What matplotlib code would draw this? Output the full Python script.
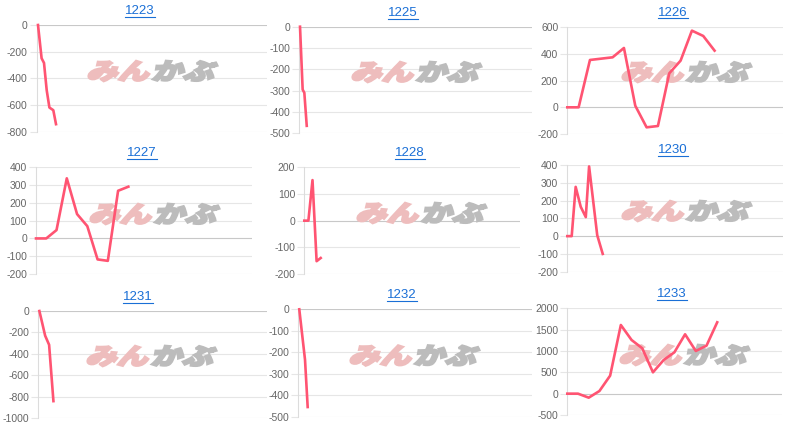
import numpy as np
import matplotlib
matplotlib.use('Agg')
import matplotlib.pyplot as plt
import matplotlib.transforms as mtransforms
from matplotlib.textpath import TextPath
from matplotlib.patches import PathPatch
from matplotlib.font_manager import FontProperties
from matplotlib.lines import Line2D

plt.rcParams['font.family'] = ['Liberation Sans', 'DejaVu Sans']

codes = ['1223', '1225', '1226', '1227', '1228', '1230', '1231', '1232', '1233']

# x = slot on each chart's time axis, y = profit / loss
x_1223 = [0.5, 1.7, 2.5, 3.4, 4.3, 5.6, 6.5]
y_1223 = [0, -250, -285, -490, -620, -640, -745]
x_1225 = [0.3, 1.4, 2.1, 3.1]
y_1225 = [0, -295, -310, -465]
x_1226 = list(range(14))
y_1226 = [0, 0, 355, 365, 375, 445, 12, -150, -140, 255, 350, 575, 535, 425]
x_1227 = list(range(10))
y_1227 = [0, 0, 47, 338, 137, 69, -118, -126, 268, 291]
x_1228 = [0, 1, 2, 3, 4]
y_1228 = [0, 0, 152, -152, -140]
x_1230 = [0, 1, 1.9, 3.05, 4.2, 4.95, 6.8, 8.05]
y_1230 = [0, 0, 277, 165, 107, 392, 5, -100]
x_1231 = [0.3, 1.0, 1.9, 3.0, 4.2]
y_1231 = [0, -100, -230, -315, -840]
x_1232 = [0.35, 2.4, 3.35]
y_1232 = [0, -235, -455]
x_1233 = list(range(15))
y_1233 = [0, 0, -94, 62, 422, 1609, 1258, 1063, 500, 789, 969, 1391, 1000, 1125, 1672]

xs = [x_1223, x_1225, x_1226, x_1227, x_1228, x_1230, x_1231, x_1232, x_1233]
ys = [y_1223, y_1225, y_1226, y_1227, y_1228, y_1230, y_1231, y_1232, y_1233]
x_max = [76.8, 97, 19.04, 21.05, 52.6, 49, 63.5, 83.5, 20.05]
y_ranges = [(-800, 0, 200), (-500, 0, 100), (-200, 600, 200),
            (-200, 400, 100), (-200, 200, 100), (-200, 400, 100),
            (-1000, 0, 200), (-500, 0, 100), (-500, 2000, 500)]

# layout in pixels: axes box (left, top, right, bottom), title centre, logo centre
W, H = 800, 426
boxes = [(36.5, 25, 267, 131.5), (299.3, 26.7, 532, 133.3), (567.3, 27.3, 783, 134),
         (36, 167.3, 252, 274), (304.3, 167.3, 520, 274), (567.3, 165, 783, 271.7),
         (38.3, 311, 267, 418.3), (298.3, 309.3, 532, 416.7), (567.3, 308.3, 782, 415)]
title_pos = [(140, 11), (403, 13), (673, 12.5), (142, 153), (410, 153), (673, 150),
             (138, 297), (402, 295), (672, 294)]
logo_pos = [(153, 71), (417, 72), (687, 72), (155, 214), (422, 213), (687, 211),
            (152, 356), (415, 355.5), (685, 355)]

LINE = '#ff5472'
GRID = '#e6e6e6'
logo_font = FontProperties(family='Noto Sans CJK JP', weight='black')


def add_logo(ax, cx, cy):
    parts = [('みん', '#eebdbd'), ('かぶ', '#bcbcbc')]
    paths = []
    x = 0
    for txt, col in parts:
        tp = TextPath((x, 0), txt, size=25, prop=logo_font)
        paths.append((tp, col))
        x += 52
    base = mtransforms.Affine2D().scale(1.25, 0.92).skew_deg(16, 0)
    ext = [p.transformed(base).get_extents() for p, _ in paths]
    x0 = min(e.x0 for e in ext)
    x1 = max(e.x1 for e in ext)
    y0 = min(e.y0 for e in ext)
    y1 = max(e.y1 for e in ext)
    tr = base + mtransforms.Affine2D().translate(cx - (x0 + x1) / 2, (H - cy) - (y0 + y1) / 2)
    for p, col in paths:
        ax.add_patch(PathPatch(p, transform=tr, fc=col, ec=col, lw=1.6,
                               joinstyle='miter', zorder=1.5, clip_on=False))


fig = plt.figure(figsize=(W / 100, H / 100), dpi=100)
titles = []
for i, code in enumerate(codes):
    l, t, r, b = boxes[i]
    ax = fig.add_axes([l / W, 1 - b / H, (r - l) / W, (b - t) / H])
    lo, hi, step = y_ranges[i]
    ax.set_ylim(lo, hi)
    ax.set_xlim(0, x_max[i])
    ticks = np.arange(lo, hi + step, step)
    ax.set_yticks(ticks)
    ax.set_yticklabels([str(int(v)) for v in ticks])
    ax.set_xticks([])
    for v in ticks:
        ax.axhline(v, color='#c8c8c8' if v == 0 else GRID, lw=0.8, zorder=1)
    for s in ['top', 'right', 'bottom']:
        ax.spines[s].set_visible(False)
    ax.spines['left'].set_color('#dcdcdc')
    ax.spines['left'].set_linewidth(0.8)
    ax.tick_params(axis='y', length=5, width=0.8, color=GRID, pad=1.5,
                   labelsize=7.5, labelcolor='#666666')
    ax.plot(xs[i], ys[i], color=LINE, lw=1.9, zorder=3, clip_on=False)
    add_logo(ax, *logo_pos[i])
    tx, ty = title_pos[i]
    titles.append(fig.text(tx / W, 1 - ty / H, code, ha='center', va='center',
                           color='#1a6fd6', fontsize=9.5))

fig.canvas.draw()
rend = fig.canvas.get_renderer()
for t in titles:
    bb = t.get_window_extent(rend)
    yy = (bb.y0 + 0.5) / H
    fig.add_artist(Line2D([bb.x0 / W, bb.x1 / W], [yy, yy], transform=fig.transFigure,
                          color='#1a6fd6', lw=0.8))

fig.savefig('out.png', dpi=100, facecolor='white')
